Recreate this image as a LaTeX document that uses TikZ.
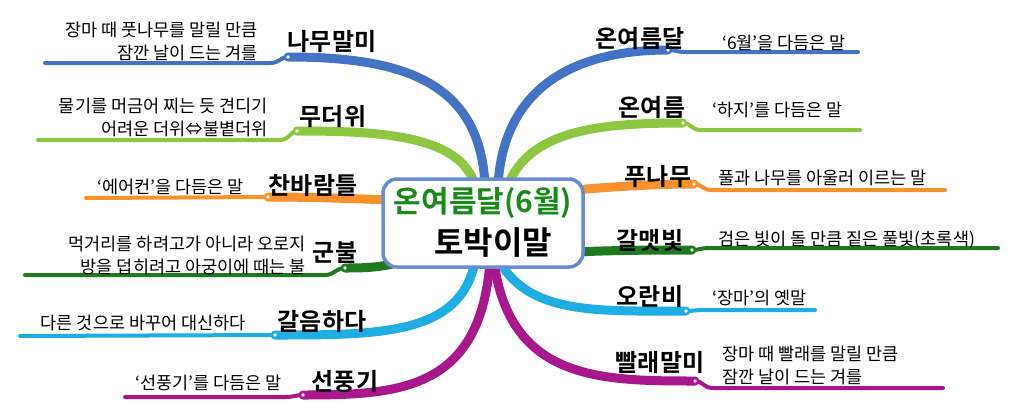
\documentclass[tikz,border=0pt]{standalone}
\usepackage{fontspec}
\setmainfont{Noto Sans CJK KR}
\newfontfamily\bfk{Noto Sans CJK KR Bold}
\definecolor{cblue}{HTML}{4472C4}
\definecolor{cgreen}{HTML}{8DC63F}
\definecolor{corange}{HTML}{F7922E}
\definecolor{cdgreen}{HTML}{1F7A1F}
\definecolor{ccyan}{HTML}{1EAEE3}
\definecolor{cmag}{HTML}{A8178B}
\definecolor{tgreen}{HTML}{1A8A1A}
\tikzset{
 thick br/.style={line width=9pt,line cap=round},
 thin br/.style={line width=4pt,line cap=round},
 jdot/.style={circle,fill=white,inner sep=1.3pt},
 lab/.style={font=\bfk\fontsize{24}{26}\selectfont,inner sep=0pt},
 desc/.style={font=\fontsize{17.5}{23}\selectfont,inner sep=0pt,align=right},
 descl/.style={font=\fontsize{17.5}{23}\selectfont,inner sep=0pt,align=left},
}
\begin{document}
\begin{tikzpicture}[x=1pt,y=-1pt]
\useasboundingbox (0,0) rectangle (1021,413);
% coordinates
\coordinate (cL1) at (485,185); \coordinate (cL2) at (475,185);
\coordinate (cL3) at (390,200); \coordinate (cL4) at (400,262);
\coordinate (cL5) at (475,262); \coordinate (cL6) at (490,262);
\coordinate (cR1) at (498,185); \coordinate (cR2) at (508,185);
\coordinate (cR3) at (575,190); \coordinate (cR4) at (575,252);
\coordinate (cR5) at (500,262); \coordinate (cR6) at (494,262);
\coordinate (j1) at (288,57); \coordinate (e1) at (45,63);
\coordinate (j2) at (297,131); \coordinate (e2) at (38,140);
\coordinate (j3) at (268,197); \coordinate (e3) at (86,198);
\coordinate (j4) at (345,268); \coordinate (e4) at (25,275);
\coordinate (j5) at (275,335); \coordinate (e5) at (20,336);
\coordinate (j6) at (303,395); \coordinate (e6) at (125,397);
\coordinate (k1) at (668,50); \coordinate (f1) at (858,52);
\coordinate (k2) at (683,123); \coordinate (f2) at (860,130);
\coordinate (k3) at (694,184); \coordinate (f3) at (945,190);
\coordinate (k4) at (692,250); \coordinate (f4) at (998,248);
\coordinate (k5) at (686,311); \coordinate (f5) at (815,310);
\coordinate (k6) at (695,381); \coordinate (f6) at (943,388);
% left branches
\draw[cblue,thick br] (cL1) .. controls (480,80) and (400,57) .. (j1);
\draw[cblue,thin br] (j1) .. controls (280,57) and (280,63) .. (270,63) -- (e1);
\draw[cgreen,thick br] (cL2) .. controls (460,135) and (380,131) .. (j2);
\draw[cgreen,thin br] (j2) .. controls (290,131) and (290,140) .. (280,140) -- (e2);
\draw[corange,thick br] (cL3) .. controls (340,198) and (300,197) .. (j3);
\draw[corange,thin br] (j3) -- (e3);
\draw[cdgreen,thick br] (cL4) .. controls (380,268) and (360,268) .. (j4);
\draw[cdgreen,thin br] (j4) .. controls (335,268) and (335,275) .. (325,275) -- (e4);
\draw[ccyan,thick br] (cL5) .. controls (460,335) and (380,335) .. (j5);
\draw[ccyan,thin br] (j5) -- (e5);
\draw[cmag,thick br] (cL6) .. controls (480,390) and (400,395) .. (j6);
\draw[cmag,thin br] (j6) .. controls (295,395) and (295,397) .. (285,397) -- (e6);
% right branches
\draw[cblue,thick br] (cR1) .. controls (505,70) and (600,50) .. (k1);
\draw[cblue,thin br] (k1) .. controls (676,50) and (676,52) .. (686,52) -- (f1);
\draw[cgreen,thick br] (cR2) .. controls (530,130) and (600,123) .. (k2);
\draw[cgreen,thin br] (k2) .. controls (691,123) and (691,130) .. (701,130) -- (f2);
\draw[corange,thick br] (cR3) .. controls (620,186) and (660,184) .. (k3);
\draw[corange,thin br] (k3) .. controls (702,184) and (702,190) .. (712,190) -- (f3);
\draw[cdgreen,thick br] (cR4) .. controls (620,250) and (660,250) .. (k4);
\draw[cdgreen,thin br] (k4) .. controls (700,250) and (700,248) .. (710,248) -- (f4);
\draw[ccyan,thick br] (cR5) .. controls (530,315) and (600,311) .. (k5);
\draw[ccyan,thin br] (k5) .. controls (694,311) and (694,310) .. (704,310) -- (f5);
\draw[cmag,thick br] (cR6) .. controls (510,380) and (600,381) .. (k6);
\draw[cmag,thin br] (k6) .. controls (703,381) and (703,388) .. (713,388) -- (f6);
% junction dots
\foreach \p in {j1,j2,j3,j4,j5,j6,k1,k2,k3,k4,k5,k6} \node[jdot] at (\p) {};
% center
\node[draw=cblue!80,line width=3.5pt,rounded corners=14pt,fill=white,minimum width=200pt,minimum height=88pt,inner sep=0pt] (center) at (483,223) {};
\node[font=\bfk\fontsize{30}{32}\selectfont,text=tgreen,inner sep=0pt] (t1) at (483,203) {온여름달(6월)};
\node[font=\bfk\fontsize{32}{34}\selectfont,inner sep=0pt] (t2) at (493,243) {토박이말};
% left labels
\node[lab] (l1) at (332,42) {나무말미};
\node[desc,anchor=east] (d1) at (258,41) {장마 때 풋나무를 말릴 만큼\\잠깐 날이 드는 겨를};
\node[lab] (l2) at (333,117) {무더위};
\node[desc,anchor=east] (d2) at (268,117) {물기를 머금어 찌는 듯 견디기\\어려운 더위⇔불볕더위};
\node[lab] (l3) at (313,186) {찬바람틀};
\node[desc,anchor=east] (d3) at (244,187) {‘에어컨’을 다듬은 말};
\node[lab] (l4) at (335,253) {군불};
\node[desc,anchor=east] (d4) at (306,255) {먹거리를 하려고가 아니라 오로지\\방을 덥히려고 아궁이에 때는 불};
\node[lab] (l5) at (322,322) {갈음하다};
\node[desc,anchor=east] (d5) at (246,323) {다른 것으로 바꾸어 대신하다};
\node[lab] (l6) at (345,382) {선풍기};
\node[desc,anchor=east] (d6) at (282,383) {‘선풍기’를 다듬은 말};
% right labels
\node[lab] (r1) at (640,39) {온여름달};
\node[descl,anchor=west] (g1) at (722,43) {‘6월’을 다듬은 말};
\node[lab] (r2) at (652,108) {온여름};
\node[descl,anchor=west] (g2) at (712,110) {‘하지’를 다듬은 말};
\node[lab] (r3) at (658,176) {푸나무};
\node[descl,anchor=west] (g3) at (718,178) {풀과 나무를 아울러 이르는 말};
\node[lab] (r4) at (650,240) {갈맷빛};
\node[descl,anchor=west] (g4) at (718,240) {검은 빛이 돌 만큼 짙은 풀빛(초록색)};
\node[lab] (r5) at (650,297) {오란비};
\node[descl,anchor=west] (g5) at (712,298) {‘장마’의 옛말};
\node[lab] (r6) at (660,363) {빨래말미};
\node[descl,anchor=west] (g6) at (722,365) {장마 때 빨래를 말릴 만큼\\잠깐 날이 드는 겨를};
\end{tikzpicture}
\end{document}
